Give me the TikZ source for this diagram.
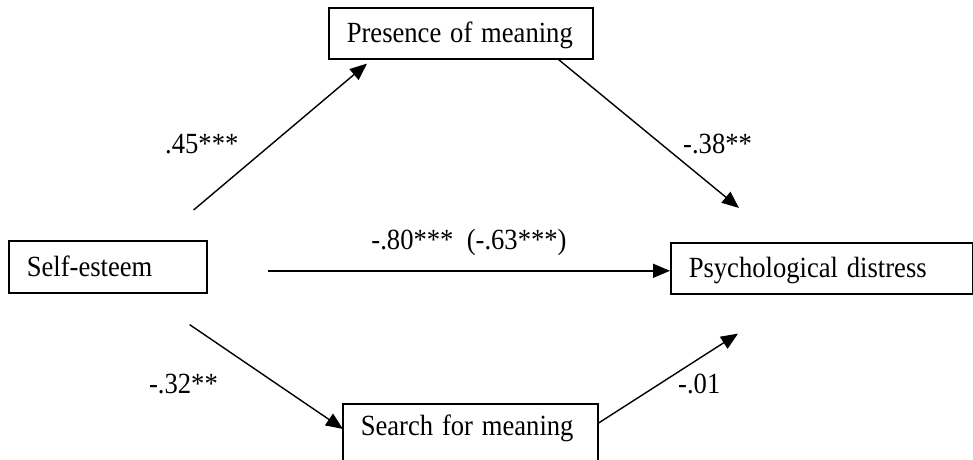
\documentclass[tikz,border=0pt]{standalone}
\usepackage{fontspec}
\usepackage{graphicx}
\setmainfont{Liberation Serif}
\usetikzlibrary{arrows.meta,calc}
\newcommand{\etire}[1]{\scalebox{1}[1.1]{#1}}
\begin{document}
\begin{tikzpicture}[x=1pt,y=1pt,font=\fontsize{26.6pt}{30pt}\selectfont]
\tikzset{boite/.style={draw, line width=1.6pt, inner xsep=18pt, text height=21pt, text depth=2pt, align=left, anchor=north west},
  fleche/.style={line width=1.4pt, -{Triangle[length=17pt,width=14pt]}},
  coef/.style={inner sep=0pt}}
\clip (0,0) rectangle (973,459);
\node[boite, text width=228pt, minimum height=51pt] (PM) at (328,452) {\etire{Presence of meaning}};
\node[boite, text width=162pt, minimum height=52pt] (SE) at (8,219) {\etire{Self-esteem}};
\node[boite, text width=266pt, minimum height=51pt] (PD) at (670,217) {\etire{Psychological distress}};
\node[boite, text width=219pt, minimum height=60pt, text depth=17pt] (SM) at (342,56) {\etire{Search for meaning}};
\draw[fleche] ($(SE.north east)+(-14,30)$) -- ($(PM.south west)+(39,-4)$);
\draw[fleche] ($(PM.south east)+(-35,0)$) -- ($(PD.north west)+(69,34)$);
\coordinate (D) at ($(SE.east)+(60,-4)$);
\draw[fleche] (D) -- (D -| PD.west);
\draw[fleche] ($(SE.south east)+(-18,-31)$) -- ($(SM.north west)+(1,-26)$);
\draw[fleche] ($(SM.north east)+(0,-20)$) -- ($(PD.south west)+(68,-39)$);
\node[coef, anchor=base west] (L1) at (165,306) {\etire{.45***}};
\node[coef, anchor=base west] (L2) at (683,306) {\etire{-.38**}};
\node[coef, anchor=base] (L3) at (469,210) {\etire{-.80***~~(-.63***)}};
\node[coef, anchor=base east] (L4) at (218,66) {\etire{-.32**}};
\node[coef, anchor=base west] (L5) at (678,66) {\etire{-.01}};
\end{tikzpicture}
\end{document}
